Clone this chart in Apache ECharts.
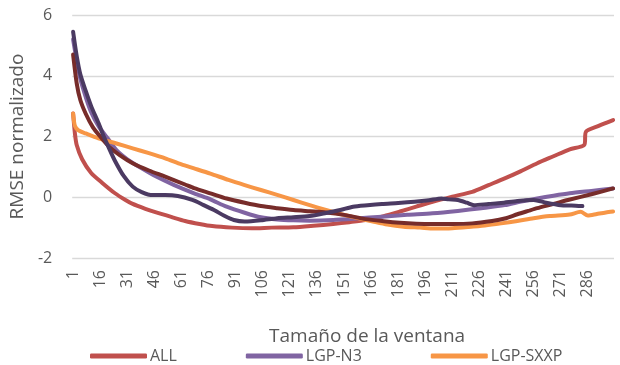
<!DOCTYPE html>
<html>
<head>
<meta charset="utf-8">
<script src="https://cdn.jsdelivr.net/npm/echarts@6/dist/echarts.min.js"></script>
<style>
  html, body { margin: 0; padding: 0; background: #fff; }
  #main { width: 620px; height: 365px; }
</style>
</head>
<body>
<div id="main"></div>
<script>
// window sizes 1..300 on the x axis
var windowSizes = [];
for (var k = 1; k <= 300; k++) windowSizes.push(String(k));

// [category index, value]
var allData = [[0,2.76],[1,2.1],[2,1.72],[5,1.25],[10,0.8],[16,0.48],[23,0.14],[29,-0.09],[33,-0.22],[40,-0.38],
  [46,-0.5],[55,-0.66],[62,-0.78],[70,-0.88],[77,-0.95],[88,-1.0],[99,-1.02],[110,-1.0],[122,-0.99],[133,-0.94],
  [144,-0.88],[153,-0.82],[162,-0.75],[172,-0.62],[181,-0.47],[190,-0.31],[199,-0.15],[210,0.02],[221,0.18],[230,0.4],
  [239,0.62],[248,0.86],[257,1.12],[266,1.35],[275,1.58],[283,1.72],[284,2.16],[291,2.35],[299,2.54]];

var n3Data = [[0,5.2],[2,4.5],[4,3.9],[7,3.3],[10,2.8],[14,2.35],[19,1.95],[24,1.55],[30,1.25],[38,0.95],
  [46,0.68],[56,0.4],[67,0.13],[76,-0.07],[85,-0.31],[95,-0.51],[104,-0.66],[113,-0.73],[122,-0.76],[131,-0.77],
  [144,-0.75],[157,-0.7],[171,-0.64],[185,-0.58],[199,-0.53],[213,-0.45],[226,-0.36],[239,-0.26],[248,-0.14],[257,-0.04],
  [266,0.05],[275,0.13],[287,0.21],[299,0.29]];

var sxxpData = [[0,2.76],[1,2.35],[3,2.2],[7,2.1],[14,1.94],[24,1.77],[33,1.61],[42,1.45],[51,1.28],[60,1.08],
  [67,0.95],[76,0.78],[86,0.57],[95,0.4],[104,0.24],[113,0.08],[122,-0.09],[131,-0.26],[140,-0.42],[148,-0.55],
  [157,-0.68],[166,-0.8],[174,-0.9],[183,-0.97],[192,-1.0],[200,-1.03],[210,-1.02],[219,-0.98],[228,-0.93],[237,-0.86],
  [246,-0.78],[255,-0.69],[264,-0.62],[275,-0.57],[281,-0.48],[285,-0.6],[290,-0.55],[295,-0.5],[299,-0.47]];

var serie4Data = [[0,4.7],[2,3.75],[4,3.2],[7,2.75],[11,2.3],[15,2.0],[20,1.66],[26,1.38],[33,1.12],[42,0.88],
  [51,0.68],[62,0.42],[67,0.3],[76,0.13],[85,-0.04],[95,-0.18],[104,-0.29],[113,-0.36],[122,-0.42],[131,-0.46],
  [140,-0.5],[150,-0.58],[162,-0.72],[172,-0.79],[181,-0.84],[190,-0.87],[199,-0.88],[210,-0.88],[221,-0.86],[232,-0.78],
  [239,-0.7],[246,-0.56],[252,-0.45],[257,-0.36],[266,-0.22],[274,-0.09],[287,0.1],[299,0.29]];

var serie5Data = [[0,5.45],[2,4.65],[4,4.05],[7,3.5],[10,3.0],[14,2.45],[17,2.0],[20,1.6],[23,1.22],[28,0.7],
  [33,0.35],[38,0.17],[44,0.07],[51,0.07],[58,0.04],[66,-0.09],[72,-0.25],[78,-0.42],[84,-0.62],[89,-0.75],
  [95,-0.8],[104,-0.76],[113,-0.69],[122,-0.66],[131,-0.62],[140,-0.52],[148,-0.42],[155,-0.31],[163,-0.26],[171,-0.22],
  [180,-0.19],[189,-0.15],[197,-0.1],[204,-0.04],[208,-0.07],[213,-0.09],[218,-0.18],[222,-0.26],[230,-0.22],[237,-0.19],
  [246,-0.12],[255,-0.09],[262,-0.18],[270,-0.26],[276,-0.27],[282,-0.29]];

var legendNames = ['ALL', 'LGP-N3', 'LGP-SXXP'];

var chart = echarts.init(document.getElementById('main'));
var font = 'Open Sans';
var txt = '#595959';

function line(name, data, color) {
  return {
    name: name,
    type: 'line',
    data: data,
    symbol: 'none',
    smooth: 0.25,
    lineStyle: { color: color, width: 4, cap: 'round', join: 'round' },
    itemStyle: { color: color },
    animation: false
  };
}

var option = {
  backgroundColor: '#fff',
  textStyle: { fontFamily: font },
  grid: { left: 66, right: 6, top: 15, bottom: 107 },
  legend: {
    data: legendNames,
    left: 85,
    top: 343,
    icon: 'roundRect',
    itemWidth: 57,
    itemHeight: 5,
    itemGap: 69,
    textStyle: { fontSize: 16, color: txt, fontFamily: font, padding: [0, 0, 0, -2] }
  },
  xAxis: {
    type: 'category',
    data: windowSizes,
    name: 'Tamaño de la ventana',
    nameLocation: 'middle',
    nameGap: 69,
    nameTextStyle: { fontSize: 19, color: txt, fontFamily: font, padding: [0, 0, 0, 48] },
    axisLine: { show: false },
    axisTick: { show: false },
    axisLabel: { interval: 14, rotate: 90, margin: 12, fontSize: 16, color: txt, fontFamily: font },
    splitLine: { show: false }
  },
  yAxis: {
    type: 'value',
    min: -2,
    max: 6,
    interval: 2,
    name: 'RMSE normalizado',
    nameLocation: 'middle',
    nameGap: 43,
    nameTextStyle: { fontSize: 19, color: txt, fontFamily: font },
    axisLine: { show: false },
    axisTick: { show: false },
    axisLabel: { margin: 20, fontSize: 16, color: txt, fontFamily: font },
    splitLine: { lineStyle: { color: '#D9D9D9', width: 1.3 } }
  },
  series: [
    line('ALL', allData, '#C0504D'),
    line('LGP-N3', n3Data, '#8064A2'),
    line('LGP-SXXP', sxxpData, '#F79646'),
    line('Serie4', serie4Data, '#772C2A'),
    line('Serie5', serie5Data, '#4B3A62')
  ]
};
chart.setOption(option);
</script>
</body>
</html>
